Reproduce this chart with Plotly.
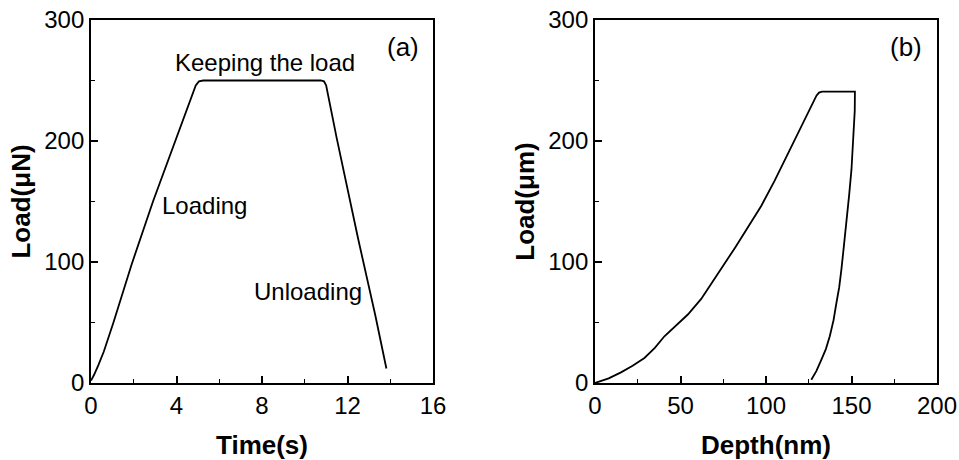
import plotly.graph_objects as go

# Panel (a): load vs time
time_s = [0.0, 0.15, 0.35, 0.6, 1.05, 1.9, 2.9, 3.94, 4.6, 4.9, 5.05, 5.25, 6.0, 8.0, 10.0, 10.75, 10.9, 11.0, 11.5, 12.5, 13.3, 13.82]
load_a = [2.0, 7.0, 15.0, 26.0, 50.0, 98.0, 150.0, 200.0, 233.0, 246.0, 249.3, 250.0, 250.0, 250.0, 250.0, 250.0, 249.3, 246.0, 202.0, 119.0, 56.0, 12.0]

# Panel (b): load vs depth (loading, hold, unloading)
depth_nm = [0.0, 8.0, 15.2, 22.0, 28.9, 35.0, 40.6, 47.5, 54.3, 62.1, 69.0, 75.8, 82.0, 87.5, 97.2, 105.0, 113.0, 121.0, 127.5, 129.5, 131.0, 132.8,
            142.0, 152.0, 151.9, 151.2, 150.0, 148.6, 147.0, 145.6, 144.1, 142.8, 141.2, 139.5, 137.3, 135.0, 132.4, 129.5, 126.5]
load_b = [0.0, 3.8, 8.8, 14.2, 20.7, 29.0, 38.6, 47.5, 56.6, 69.5, 84.0, 99.4, 112.0, 124.3, 146.3, 167.0, 190.0, 214.0, 233.0, 237.5, 240.0, 240.8,
          240.8, 240.8, 225.0, 204.0, 176.7, 155.0, 135.3, 114.0, 93.9, 79.0, 66.3, 52.0, 38.6, 28.0, 19.3, 10.0, 2.7]

xa_ticks = [0, 4, 8, 12, 16]
xb_ticks = [0, 50, 100, 150, 200]
y_ticks = [0, 100, 200, 300]

FONT = "Arial, 'Liberation Sans', sans-serif"
BLACK = "#000000"

fig = go.Figure()
fig.add_trace(go.Scatter(x=time_s, y=load_a, mode="lines", line=dict(color=BLACK, width=1.8),
                         xaxis="x", yaxis="y", showlegend=False))
fig.add_trace(go.Scatter(x=depth_nm, y=load_b, mode="lines", line=dict(color=BLACK, width=1.8),
                         xaxis="x2", yaxis="y2", showlegend=False))

def xaxis_style(domain, rng, ticks, dtick_minor, title, anchor):
    return dict(domain=domain, range=rng, tickvals=ticks, anchor=anchor, automargin=False,
                showline=True, linecolor=BLACK, linewidth=1.8, mirror=True,
                ticks="inside", ticklen=7, tickwidth=1.6, tickcolor=BLACK,
                minor=dict(ticks="inside", ticklen=4, tickwidth=1.4, tickcolor=BLACK, dtick=dtick_minor, showgrid=False),
                showgrid=False, zeroline=False,
                tickfont=dict(family=FONT, size=24, color=BLACK),
                title=dict(text=title, font=dict(family=FONT, size=26, color=BLACK, weight="bold"), standoff=18))

def yaxis_style(domain, title, anchor):
    return dict(domain=domain, range=[0, 300], tickvals=y_ticks, anchor=anchor, automargin=False,
                showline=True, linecolor=BLACK, linewidth=1.8, mirror=True,
                ticks="inside", ticklen=7, tickwidth=1.6, tickcolor=BLACK,
                minor=dict(ticks="inside", ticklen=4, tickwidth=1.4, tickcolor=BLACK, dtick=50, showgrid=False),
                showgrid=False, zeroline=False,
                tickfont=dict(family=FONT, size=24, color=BLACK),
                title=dict(text=title, font=dict(family=FONT, size=26, color=BLACK, weight="bold"), standoff=6))

ydom = [77 / 460, 440 / 460]
fig.update_layout(
    width=959, height=460,
    margin=dict(l=0, r=0, t=0, b=0),
    plot_bgcolor="white", paper_bgcolor="white",
    xaxis=xaxis_style([91 / 959, 433 / 959], [0, 16], xa_ticks, 2, "Time(s)", "y"),
    yaxis=yaxis_style(ydom, "Load(μN)", "x"),
    xaxis2=xaxis_style([595 / 959, 937 / 959], [0, 200], xb_ticks, 25, "Depth(nm)", "y2"),
    yaxis2=yaxis_style(ydom, "Load(μm)", "x2"),
    annotations=[
        dict(x=8.15, y=264.5, xref="x", yref="y", text="Keeping the load", showarrow=False,
             font=dict(family=FONT, size=24, color=BLACK)),
        dict(x=5.29, y=147, xref="x", yref="y", text="Loading", showarrow=False,
             font=dict(family=FONT, size=24, color=BLACK)),
        dict(x=10.15, y=75.6, xref="x", yref="y", text="Unloading", showarrow=False,
             font=dict(family=FONT, size=24, color=BLACK)),
        dict(x=14.6, y=278, xref="x", yref="y", text="(a)", showarrow=False,
             font=dict(family=FONT, size=26, color=BLACK)),
        dict(x=181.9, y=278, xref="x2", yref="y2", text="(b)", showarrow=False,
             font=dict(family=FONT, size=26, color=BLACK)),
    ],
)

fig.write_html("out.html", config={"displayModeBar": False},
               post_script="document.body.style.margin='0';document.body.style.overflow='hidden';")
